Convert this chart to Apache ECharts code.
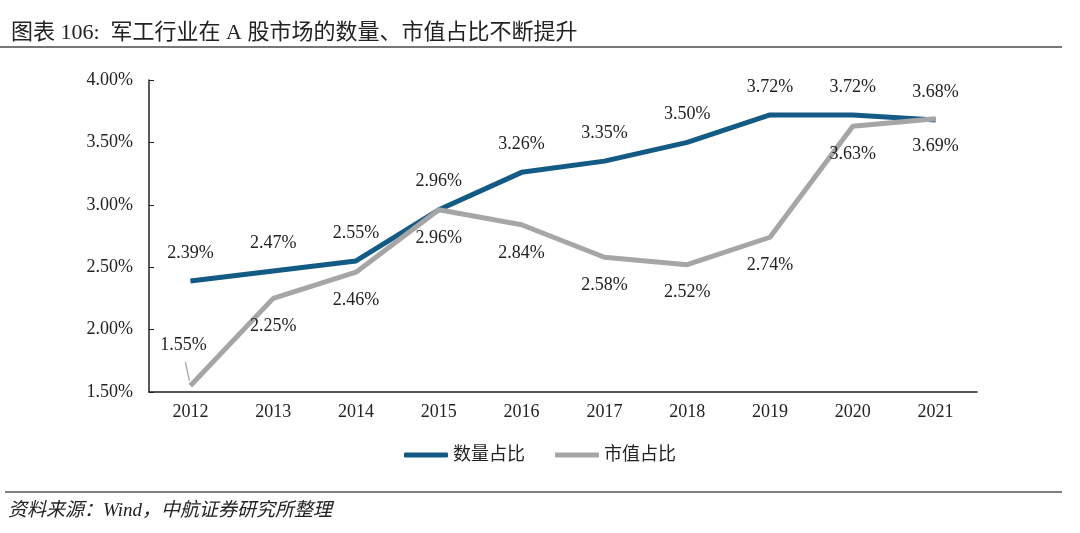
<!DOCTYPE html>
<html><head><meta charset="utf-8">
<style>html,body{margin:0;padding:0;background:#fff;}#c{width:1080px;height:533px;}</style>
<script src="https://cdn.jsdelivr.net/npm/echarts@6/dist/echarts.min.js"></script>
</head><body><div id="c"></div>
<script>
const categories = ['2012','2013','2014','2015','2016','2017','2018','2019','2020','2021'];
const countShare = [2.39, 2.47, 2.55, 2.96, 3.26, 3.35, 3.50, 3.72, 3.72, 3.68];
const valueShare = [1.55, 2.25, 2.46, 2.96, 2.84, 2.58, 2.52, 2.74, 3.63, 3.69];
const yTicks = [1.5, 2.0, 2.5, 3.0, 3.5, 4.0];

const FONT = '"Liberation Serif","DejaVu Serif","Noto Sans CJK SC",serif';
const chart = echarts.init(document.getElementById('c'));
const fmt = v => v.toFixed(2) + '%';
const grayData = valueShare.map((v, i) => i === 0 ? {
  value: v,
  label: {position: 'top', distance: 0, offset: [-7, -31]}
} : v);

const staticGraphics = [
  {type: 'line', shape: {x1: 0, y1: 47, x2: 1062, y2: 47}, style: {stroke: '#777', lineWidth: 2}},
  {type: 'line', shape: {x1: 5, y1: 492, x2: 1062, y2: 492}, style: {stroke: '#555', lineWidth: 1.5}},
  {type: 'text', left: 8, top: 501, style: {text: '资料来源：Wind，中航证券研究所整理', font: 'italic 19px ' + FONT, fill: '#222'}}
];

chart.setOption({
  animation: false,
  title: {
    text: '图表 106:  军工行业在 A 股市场的数量、市值占比不断提升',
    left: 6, top: 17,
    textStyle: {fontFamily: FONT, fontSize: 22, fontWeight: 'normal', color: '#222'}
  },
  graphic: staticGraphics,
  legend: {
    bottom: 64, left: 'center',
    itemWidth: 44, itemHeight: 5, itemGap: 30,
    icon: 'roundRect',
    textStyle: {fontFamily: FONT, fontSize: 18, color: '#222'},
    data: ['数量占比', '市值占比']
  },
  grid: {left: 149, right: 103, top: 80, bottom: 141},
  xAxis: {
    type: 'category', data: categories, boundaryGap: true,
    axisLine: {lineStyle: {color: '#222', width: 1.5}},
    axisTick: {inside: true, length: 5, lineStyle: {color: '#222'}},
    axisLabel: {fontFamily: FONT, fontSize: 18, color: '#222', margin: 11}
  },
  yAxis: {
    type: 'value', min: 1.5, max: 4.0, interval: 0.5,
    axisLine: {show: true, lineStyle: {color: '#222', width: 1.5}},
    axisTick: {show: true, inside: true, length: 5, lineStyle: {color: '#222'}},
    splitLine: {show: false},
    axisLabel: {fontFamily: FONT, fontSize: 18, color: '#222', margin: 16,
      formatter: v => fmt(v)}
  },
  series: [
    {
      name: '数量占比', type: 'line', data: countShare,
      symbol: 'circle', symbolSize: 0.1, showSymbol: true,
      lineStyle: {color: '#135b85', width: 5},
      itemStyle: {color: '#135b85'},
      label: {show: true, position: 'top', distance: 19, fontFamily: FONT, fontSize: 18, color: '#222',
        formatter: p => fmt(p.value)},
      z: 3
    },
    {
      name: '市值占比', type: 'line', data: grayData,
      symbol: 'circle', symbolSize: 0.1, showSymbol: true,
      lineStyle: {color: '#a6a6a6', width: 5},
      itemStyle: {color: '#a6a6a6'},
      label: {show: true, position: 'bottom', distance: 19, fontFamily: FONT, fontSize: 18, color: '#222',
        formatter: p => fmt(p.value)},
      z: 4
    }
  ]
});

// leader line from the 1.55% label to its point, positioned via the chart's own scales
const p = chart.convertToPixel({seriesIndex: 1}, [0, valueShare[0]]);
chart.setOption({
  graphic: staticGraphics.concat([
    {type: 'line', shape: {x1: p[0] - 5, y1: p[1] - 24, x2: p[0] - 1, y2: p[1] - 5},
     style: {stroke: '#a6a6a6', lineWidth: 1.3}, z: 10}
  ])
});
</script></body></html>
